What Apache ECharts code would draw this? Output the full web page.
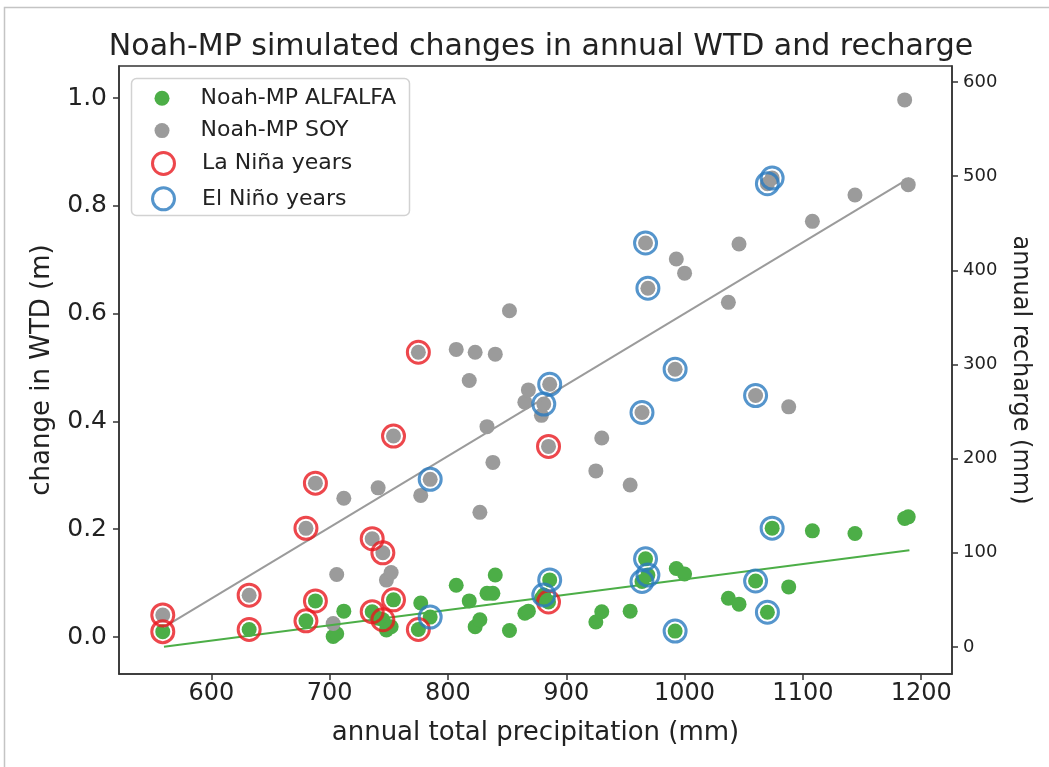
<!DOCTYPE html>
<html>
<head>
<meta charset="utf-8">
<script src="https://cdn.jsdelivr.net/npm/echarts@6/dist/echarts.min.js"></script>
<style>
  html, body { margin: 0; padding: 0; background: #fff; }
  #chart { width: 1049px; height: 767px; }
</style>
</head>
<body>
<div id="chart"></div>
<script>
// ---- data (one entry per year) ----
const precip = [559, 632, 680, 688, 703, 706, 712, 736, 741, 745, 748, 752, 754, 775, 777, 785,
  807, 818, 823, 827, 833, 838, 840, 852, 865, 868, 879, 881, 885, 886,
  925, 930, 954, 964, 967, 969, 992, 993, 1000, 1037, 1046, 1060, 1070, 1074, 1088, 1108, 1144, 1186, 1189];
const alfalfaWTD = [0.010, 0.014, 0.030, 0.067, 0.001, 0.006, 0.048, 0.047, 0.035, 0.032, 0.013, 0.019, 0.069, 0.014, 0.063, 0.037,
  0.096, 0.067, 0.019, 0.032, 0.081, 0.081, 0.115, 0.012, 0.044, 0.048, 0.072, 0.078, 0.065, 0.106,
  0.028, 0.047, 0.048, 0.103, 0.145, 0.115, 0.011, 0.127, 0.117, 0.072, 0.061, 0.104, 0.046, 0.202, 0.093, 0.197, 0.192, 0.220, 0.223];
const soyRecharge = [34, 55, 126, 174, 25, 77, 158, 115, 169, 100, 71, 79, 224, 313, 161, 178,
  316, 283, 313, 143, 234, 196, 311, 357, 260, 273, 246, 258, 213, 279,
  187, 222, 172, 249, 429, 381, 295, 412, 397, 366, 428, 267, 492, 498, 255, 452, 480, 581, 491];
const enso = ['L', 'L', 'L', 'L', '', '', '', 'L', '', 'L', '', '', 'L', 'L', '', 'E',
  '', '', '', '', '', '', '', '', '', '', '', 'E', 'L', 'E',
  '', '', '', 'E', 'E', 'E', 'E', '', '', '', '', 'E', 'E', 'E', '', '', '', '', ''];
// trend-line end points
const trendX = [560, 1190];
const alfalfaTrend = [-0.018, 0.161];
const soyTrend = [21, 498];
// tick labels
const xTicks = [600, 700, 800, 900, 1000, 1100, 1200];
const leftTicks = [0.0, 0.2, 0.4, 0.6, 0.8, 1.0];
const rightTicks = [0, 100, 200, 300, 400, 500, 600];

const GREEN = '#4cae47', GRAY = '#9b9b9b', RED = '#e8191f', BLUE = '#2a7bbf';
const FONT = 'DejaVu Sans';
const TXT = '#222';
const AX = { color: '#333', width: 1.5 };

const pts = (ys, flag) => precip.map((p, i) => [p, ys[i]]).filter((d, i) => flag === undefined || enso[i] === flag);

const chart = echarts.init(document.getElementById('chart'), null, { renderer: 'canvas' });

const ringStyle = c => ({ color: 'rgba(0,0,0,0)', borderColor: c, borderWidth: 3 });

const option = {
  animation: false,
  backgroundColor: '#fff',
  textStyle: { fontFamily: FONT },
  title: {
    text: 'Noah-MP simulated changes in annual WTD and recharge',
    left: 536, top: 27, textAlign: 'center',
    textStyle: { fontFamily: FONT, fontSize: 30, fontWeight: 'normal', color: TXT }
  },
  grid: { left: 119, right: 97, top: 66, bottom: 93, show: true, borderColor: '#333', borderWidth: 1.5, backgroundColor: 'transparent' },
  legend: [
    {
      data: ['Noah-MP ALFALFA', 'Noah-MP SOY'],
      orient: 'vertical', left: 154.5, top: 87.3, padding: 0, itemGap: 10.3,
      itemWidth: 15, itemHeight: 15, selectedMode: false,
      textStyle: { fontFamily: FONT, fontSize: 22, color: TXT, padding: [0, 0, 0, 26] }
    },
    {
      data: [
        { name: 'La Niña years', itemStyle: ringStyle(RED) },
        { name: 'El Niño years', itemStyle: ringStyle(BLUE) }
      ],
      orient: 'vertical', left: 151, top: 151, padding: 0, itemGap: 10.3,
      itemWidth: 22, itemHeight: 22, selectedMode: false,
      textStyle: { fontFamily: FONT, fontSize: 22, color: TXT, padding: [0, 0, 0, 22.5] }
    }
  ],
  xAxis: {
    type: 'value', min: 522, max: 1226,
    axisLine: { show: true, onZero: false, lineStyle: AX },
    axisTick: { show: true, inside: false, length: 6, customValues: xTicks, lineStyle: AX },
    axisLabel: { customValues: xTicks, formatter: v => String(v), fontFamily: FONT, fontSize: 24, color: TXT, margin: 8 },
    splitLine: { show: false },
    name: 'annual total precipitation (mm)', nameLocation: 'middle', nameGap: 46,
    nameTextStyle: { fontFamily: FONT, fontSize: 26, color: TXT }
  },
  yAxis: [
    {
      type: 'value', min: -0.0686, max: 1.0594, position: 'left',
      axisLine: { show: true, onZero: false, lineStyle: AX },
      axisTick: { show: true, inside: false, length: 6, customValues: leftTicks, lineStyle: AX },
      axisLabel: { customValues: leftTicks, formatter: v => v.toFixed(1), fontFamily: FONT, fontSize: 25, color: TXT, margin: 12 },
      splitLine: { show: false },
      name: 'change in WTD (m)', nameLocation: 'middle', nameGap: 64, nameRotate: 90,
      nameTextStyle: { fontFamily: FONT, fontSize: 26, color: TXT }
    },
    {
      type: 'value', min: -28.7, max: 617.0, position: 'right',
      axisLine: { show: true, onZero: false, lineStyle: AX },
      axisTick: { show: true, inside: false, length: 6, customValues: rightTicks, lineStyle: AX },
      axisLabel: { customValues: rightTicks, formatter: v => String(v), fontFamily: FONT, fontSize: 18, color: TXT, margin: 11 },
      splitLine: { show: false },
      name: 'annual recharge (mm)', nameLocation: 'middle', nameGap: 56, nameRotate: -90,
      nameTextStyle: { fontFamily: FONT, fontSize: 24, color: TXT }
    }
  ],
  series: [
    { name: 'Noah-MP ALFALFA', type: 'scatter', yAxisIndex: 0, symbolSize: 15, z: 2,
      itemStyle: { color: GREEN, opacity: 1 }, emphasis: { disabled: true }, data: pts(alfalfaWTD) },
    { name: 'Noah-MP SOY', type: 'scatter', yAxisIndex: 1, symbolSize: 15, z: 3,
      itemStyle: { color: GRAY, opacity: 1 }, emphasis: { disabled: true }, data: pts(soyRecharge) },
    { name: 'alfalfa trend', type: 'line', yAxisIndex: 0, z: 4, symbol: 'none', silent: true,
      lineStyle: { color: GREEN, width: 2 }, data: trendX.map((x, i) => [x, alfalfaTrend[i]]) },
    { name: 'soy trend', type: 'line', yAxisIndex: 1, z: 4, symbol: 'none', silent: true,
      lineStyle: { color: GRAY, width: 2 }, data: trendX.map((x, i) => [x, soyTrend[i]]) },
    { name: 'La Niña years', type: 'scatter', yAxisIndex: 0, symbolSize: 22, z: 5,
      itemStyle: ringStyle(RED), emphasis: { disabled: true }, data: pts(alfalfaWTD, 'L') },
    { name: 'La Niña years', type: 'scatter', yAxisIndex: 1, symbolSize: 22, z: 5,
      itemStyle: ringStyle(RED), emphasis: { disabled: true }, data: pts(soyRecharge, 'L') },
    { name: 'El Niño years', type: 'scatter', yAxisIndex: 0, symbolSize: 22, z: 5,
      itemStyle: ringStyle(BLUE), emphasis: { disabled: true }, data: pts(alfalfaWTD, 'E') },
    { name: 'El Niño years', type: 'scatter', yAxisIndex: 1, symbolSize: 22, z: 5,
      itemStyle: ringStyle(BLUE), emphasis: { disabled: true }, data: pts(soyRecharge, 'E') }
  ],
  graphic: [
    { type: 'rect', silent: true, z: -1, shape: { x: 4.5, y: 7.5, width: 1060, height: 800 },
      style: { fill: 'none', stroke: '#c4c4c4', lineWidth: 1.5 } },
    { type: 'rect', silent: true, z: 0, shape: { x: 131.5, y: 78.5, width: 278, height: 137, r: 5 },
      style: { fill: 'rgba(255,255,255,0.8)', stroke: '#d2d2d2', lineWidth: 1.5 } }
  ]
};
chart.setOption(option);
</script>
</body>
</html>
